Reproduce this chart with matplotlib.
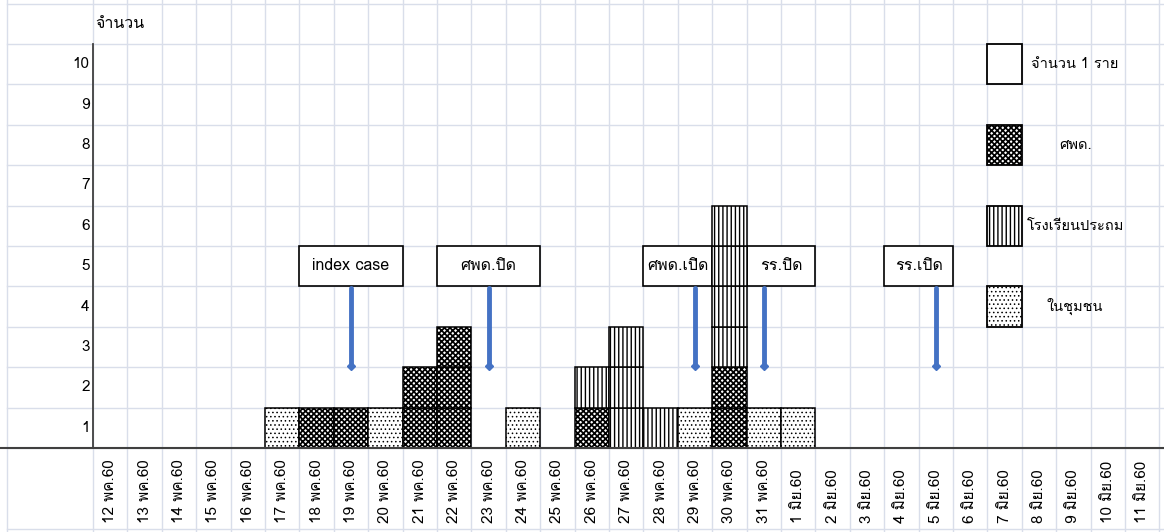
import matplotlib
matplotlib.use('Agg')
import matplotlib.pyplot as plt
from matplotlib import font_manager
from matplotlib.ft2font import FT2Font
from matplotlib.patches import Rectangle

# data (cases per day, by place)
dates = ['12 พค.60', '13 พค.60', '14 พค.60', '15 พค.60', '16 พค.60', '17 พค.60',
         '18 พค.60', '19 พค.60', '20 พค.60', '21 พค.60', '22 พค.60', '23 พค.60',
         '24 พค.60', '25 พค.60', '26 พค.60', '27 พค.60', '28 พค.60', '29 พค.60',
         '30 พค.60', '31 พค.60', '1 มิย.60', '2 มิย.60', '3 มิย.60', '4 มิย.60',
         '5 มิย.60', '6 มิย.60', '7 มิย.60', '8 มิย.60', '9 มิย.60', '10 มิย.60',
         '11 มิย.60']
daycare = [0, 0, 0, 0, 0, 0, 1, 1, 0, 2, 3, 0, 0, 0, 1, 0,
           0, 0, 2, 0, 0, 0, 0, 0, 0, 0, 0, 0, 0, 0, 0]
school = [0, 0, 0, 0, 0, 0, 0, 0, 0, 0, 0, 0, 0, 0, 1, 3,
          1, 0, 4, 0, 0, 0, 0, 0, 0, 0, 0, 0, 0, 0, 0]
community = [0, 0, 0, 0, 0, 1, 0, 0, 1, 0, 0, 0, 1, 0, 0, 0,
             0, 1, 0, 1, 1, 0, 0, 0, 0, 0, 0, 0, 0, 0, 0]

series_names = ['ศพด.', 'โรงเรียนประถม', 'ในชุมชน']
legend_unit = 'จำนวน 1 ราย'
y_title = 'จำนวน'

event_labels = ['index case', 'ศพด.ปิด', 'ศพด.เปิด', 'รร.ปิด', 'รร.เปิด']
event_dates = ['19 พค.60', '23 พค.60', '29 พค.60', '31 พค.60', '5 มิย.60']


def thai_font():
    # look for any installed font that has Thai glyphs
    for f in font_manager.fontManager.ttflist:
        try:
            if 0x0E08 in FT2Font(f.fname).get_charmap():
                return f.name
        except Exception:
            pass
    return None


tf = thai_font()
fam = [tf, 'DejaVu Sans'] if tf else ['DejaVu Sans']
plt.rcParams['font.family'] = fam

# hatch pattern and hatch line width per group
hatches = ['xxxxxx', '||||', '....']
hatch_lw = [1.25, 1.0, 0.6]
grid_c = '#d9deea'


def cell(ax, x, y, h, hlw, lw=1.1, align='center'):
    with plt.rc_context({'hatch.linewidth': hlw}):
        b = ax.bar(x, 1, width=1, bottom=y, facecolor='white', edgecolor='black',
                   hatch=h, lw=lw, zorder=3, align=align)
    for p in b:
        try:
            p.set_hatch_linewidth(hlw)
        except AttributeError:
            pass


# one "cell" = one column (34.4 px) by one case (40.4 px)
fig = plt.figure(figsize=(11.64, 5.32), dpi=100)
ax = fig.add_axes([0, 0, 1, 1])
ax.set_xlim(-93 / 34.4, (1164 - 93) / 34.4)
ax.set_ylim(-84 / 40.4, 448 / 40.4)
ax.axis('off')

# spreadsheet grid
for i in range(0, 32):
    ax.axvline(i, color=grid_c, lw=1, zorder=0)
ax.axvline(-2.5, color=grid_c, lw=1, zorder=0)
for j in list(range(0, 12)) + [-2]:
    ax.axhline(j, xmin=0.006, color=grid_c, lw=1, zorder=0)

# axes
ax.plot([0, 0], [0, 10], color='#404040', lw=1.3, zorder=5)
ax.axhline(0, color='#404040', lw=1.5, zorder=5)

# stacked cells, one per case
for i in range(len(dates)):
    bottom = 0
    for counts, h, hlw in zip([daycare, school, community], hatches, hatch_lw):
        for k in range(counts[i]):
            cell(ax, i + 0.5, bottom, h, hlw)
            bottom += 1

# tick labels
for k in range(1, 11):
    ax.text(-0.1, k - 0.5, str(k), ha='right', va='center', fontsize=11)
for i, d in enumerate(dates):
    ax.text(i + 0.5, -1.85, d, rotation=90, ha='center', va='bottom', fontsize=11)
ax.text(0.08, 10.5, y_title, ha='left', va='center', fontsize=11.5)

# events: box + arrow
box_span = [(6, 3), (10, 3), (16, 2), (19, 2), (23, 2)]
for lab, d, (x0, w) in zip(event_labels, event_dates, box_span):
    ax.add_patch(Rectangle((x0, 4), w, 1, facecolor='white', edgecolor='black',
                           lw=1.2, zorder=2))
    ax.text(x0 + w / 2, 4.5, lab, ha='center', va='center', fontsize=11.5, zorder=2)
    xa = dates.index(d) + 0.5
    ax.plot([xa, xa], [3.95, 2.05], color='#4472c4', lw=3.5,
            solid_capstyle='round', zorder=4)
    ax.plot(xa, 2.03, marker='D', ms=4.5, color='#4472c4', zorder=4)

# legend drawn as cells
leg_y = [9, 7, 5, 3]
leg_h = [''] + hatches
leg_lw = [1.0] + hatch_lw
leg_t = [legend_unit] + series_names
for y, h, hlw, t in zip(leg_y, leg_h, leg_lw, leg_t):
    cell(ax, 26, y, h, hlw, lw=1.3, align='edge')
    ax.text(28.55, y + 0.5, t, ha='center', va='center', fontsize=10.5)

fig.savefig('out.png', dpi=100)
